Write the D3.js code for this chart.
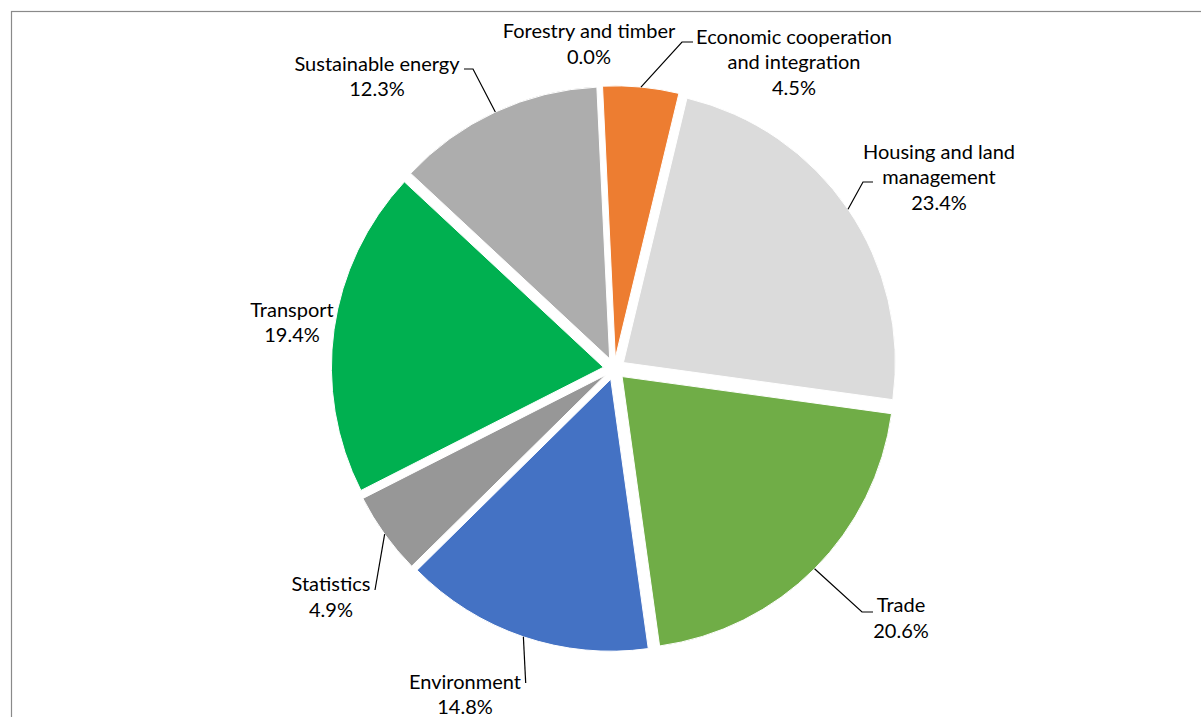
<!DOCTYPE html>
<html>
<head>
<meta charset="utf-8">
<script src="https://cdn.jsdelivr.net/npm/d3@7/dist/d3.min.js"></script>
<style>
  html, body { margin: 0; padding: 0; background: #fff; overflow: hidden; }
  svg { display: block; }
  text { font-family: Lato, "Open Sans", "Noto Sans", sans-serif; fill: #000; }
</style>
</head>
<body>
<svg id="chart" width="1201" height="717"></svg>
<script>
// Share of projects by sector (%)
const categories = [
  "Forestry and timber",
  "Economic cooperation and integration",
  "Housing and land management",
  "Trade",
  "Environment",
  "Statistics",
  "Transport",
  "Sustainable energy"
];
const shares = [0.0, 4.5, 23.4, 20.6, 14.8, 4.9, 19.4, 12.3];
const labelLines = [
  ["Forestry and timber"],
  ["Economic cooperation", "and integration"],
  ["Housing and land", "management"],
  ["Trade"],
  ["Environment"],
  ["Statistics"],
  ["Transport"],
  ["Sustainable energy"]
];
const colors = ["#5B9BD5", "#ED7D31", "#DBDBDB", "#70AD47", "#4472C4", "#979797", "#00B050", "#ADADAD"];

// Layout
const W = 1201, H = 717;
const cx = 614.3, cy = 368.8;
const radius = 272;
const explode = 11;
const startAngle = -2.7 * Math.PI / 180;
const fontSize = 20;
const lineGap = 25.5;

// label block centres (x, first-line centre y) and leader elbows
const labelLayout = [
  { x: 589, y: 31, leader: null },
  { x: 794, y: 36.5, leader: [[682, 42], [693, 42]] },
  { x: 939, y: 151.5, leader: [[863, 182], [873, 182]] },
  { x: 901, y: 605, leader: [[862, 612], [873, 612]] },
  { x: 465, y: 681.5, leader: [[525.7, 683]] },
  { x: 331, y: 584, leader: [[375, 590]] },
  { x: 292, y: 309.5, leader: null },
  { x: 377, y: 63.5, leader: [[473, 69], [464, 69]] }
];

const svg = d3.select("#chart");

// chart area frame (runs off the right and bottom)
svg.append("rect")
  .attr("x", 11.5).attr("y", 11.5)
  .attr("width", 1400).attr("height", 900)
  .attr("fill", "none")
  .attr("stroke", "#8a8a8a")
  .attr("stroke-width", 1.2);

const pie = d3.pie()
  .sort(null)
  .value(d => d)
  .startAngle(startAngle)
  .endAngle(startAngle + 2 * Math.PI);

const arcs = pie(shares);
const arcGen = d3.arc().innerRadius(0).outerRadius(radius);

function offset(a) {
  const mid = (a.startAngle + a.endAngle) / 2;
  return [explode * Math.sin(mid), -explode * Math.cos(mid)];
}

const g = svg.append("g").attr("transform", `translate(${cx},${cy})`);

g.selectAll("path.slice")
  .data(arcs.filter(a => a.value > 0))
  .join("path")
  .attr("class", "slice")
  .attr("transform", d => { const o = offset(d); return `translate(${o[0]},${o[1]})`; })
  .attr("d", arcGen)
  .attr("fill", d => colors[d.index])
  .attr("stroke", "#fff")
  .attr("stroke-width", 1);

// leader lines from each slice's outer arc midpoint
const line = d3.line();
arcs.forEach((a, i) => {
  const lay = labelLayout[i];
  if (!lay.leader) return;
  const mid = (a.startAngle + a.endAngle) / 2;
  const o = offset(a);
  const p0 = [cx + o[0] + radius * Math.sin(mid), cy + o[1] - radius * Math.cos(mid)];
  svg.append("path")
    .attr("d", line([p0, ...lay.leader]))
    .attr("fill", "none")
    .attr("stroke", "#000")
    .attr("stroke-width", 1.2);
});

// data labels: category name lines plus percentage
const fmt = d3.format(".1f");
arcs.forEach((a, i) => {
  const lay = labelLayout[i];
  const lines = [...labelLines[i], fmt(a.value) + "%"];
  const t = svg.append("text")
    .attr("text-anchor", "middle")
    .attr("font-size", fontSize);
  lines.forEach((s, k) => {
    t.append("tspan")
      .attr("x", lay.x)
      .attr("y", lay.y + k * lineGap + fontSize * 0.36)
      .text(s);
  });
});
</script>
</body>
</html>
